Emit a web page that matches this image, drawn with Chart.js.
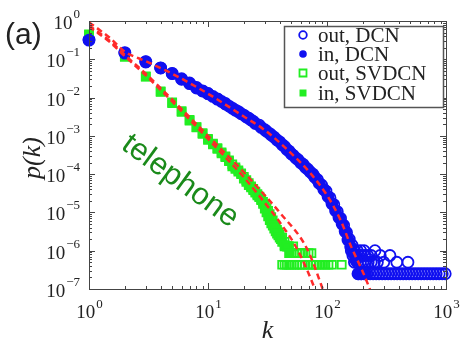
<!DOCTYPE html>
<html>
<head>
<meta charset="utf-8">
<script src="https://cdn.jsdelivr.net/npm/chart.js@4.4.1/dist/chart.umd.min.js"></script>
<style>
  html, body { margin: 0; padding: 0; background: #fff; }
  canvas { display: block; }
</style>
</head>
<body>
<canvas id="chart" width="460" height="345"></canvas>
<script>
// DCN, in-degree (filled circles)
const dcnInK = [1,2,3,4,5,6,7,8,9,10,11,12,13,14,15,17,19,21,23,25,28,31,34,38,42,46,50,55,60,66,72,79,86,94,102,110,118,126,134,142,150,158,166,175,185,195,210];
const dcnInP = [0.316,0.145,0.085,0.059,0.042,0.030,0.023,0.0178,0.0148,0.0126,0.0107,0.0091,0.0079,0.0068,0.0060,0.0047,0.0038,0.0031,0.0026,0.0021,1.66e-3,1.32e-3,1.05e-3,7.8e-4,5.9e-4,4.4e-4,3.4e-4,2.6e-4,2.0e-4,1.5e-4,1.15e-4,8.3e-5,5.8e-5,4.0e-5,2.6e-5,1.7e-5,1.1e-5,7.4e-6,5.0e-6,3.2e-6,1.9e-6,1.26e-6,8.7e-7,5.6e-7,2.5e-7,2.5e-7,2.5e-7];

// DCN, out-degree (open circles)
const dcnOutK = [1,2,3,4,5,6,7,8,9,10,12,14,16,18,20,22,24,27,30,33,36,40,44,48,52,57,63,69,76,83,90,98,106,114,122,130,138,146,154,162,170,
  160,170,180,192,205,165,175,185,195,207,220,235,170,180,190,200,210,222,235,250,265,253,280,300,338,386,479,
  182,193,205,217,230,244,259,274,291,308,327,346,367,389,412,437,463,491,520,551,584,619,656,695,737,781,828,877,930,985];
const dcnOutP = [0.33,0.15,0.087,0.060,0.043,0.031,0.024,0.0183,0.0150,0.0128,0.0093,0.0070,0.0053,0.0043,0.0035,0.0029,0.0024,0.0019,1.45e-3,1.15e-3,9.2e-4,7.0e-4,5.3e-4,4.0e-4,3.1e-4,2.4e-4,1.8e-4,1.35e-4,1.0e-4,7.2e-5,5.2e-5,3.6e-5,2.4e-5,1.6e-5,1.05e-5,7.0e-6,4.6e-6,3.0e-6,2.0e-6,1.4e-6,1.0e-6,
  1e-6,1e-6,1e-6,1e-6,1e-6,7.5e-7,7.5e-7,7.5e-7,7.5e-7,7.5e-7,7.5e-7,7.5e-7,5e-7,5e-7,5e-7,5e-7,5e-7,5e-7,5e-7,5e-7,5e-7,1.0e-6,7.5e-7,5e-7,7.5e-7,5e-7,5e-7,
  2.5e-7,2.5e-7,2.5e-7,2.5e-7,2.5e-7,2.5e-7,2.5e-7,2.5e-7,2.5e-7,2.5e-7,2.5e-7,2.5e-7,2.5e-7,2.5e-7,2.5e-7,2.5e-7,2.5e-7,2.5e-7,2.5e-7,2.5e-7,2.5e-7,2.5e-7,2.5e-7,2.5e-7,2.5e-7,2.5e-7,2.5e-7,2.5e-7,2.5e-7,2.5e-7];

// SVDCN, in-degree (filled squares)
const svdcnInK = [1,2,3,4,5,6,7,8,9,10,11,12,13,14,15,16,17,18,19,20,21,22,23,24,25,26,27,28,29,30,31,32,33,34,35,36,37,38,39,40,41,42,44,46,48];
const svdcnInP = [0.43,0.115,0.035,0.0141,0.0072,0.0042,0.0025,0.00166,0.00112,7.9e-4,6.0e-4,4.6e-4,3.5e-4,2.8e-4,2.2e-4,1.6e-4,1.38e-4,1.17e-4,1.0e-4,7.6e-5,6.3e-5,5.2e-5,4.5e-5,3.8e-5,3.3e-5,2.8e-5,2.5e-5,2.1e-5,1.66e-5,1.26e-5,1.0e-5,7.9e-6,6.3e-6,5.2e-6,4.5e-6,3.8e-6,3.2e-6,2.8e-6,2.5e-6,2.2e-6,2.0e-6,1.7e-6,1.4e-6,1.3e-6,8.6e-7];

// SVDCN, out-degree (open squares)
const svdcnOutK = [1,2,3,4,5,6,7,8,9,10,11,12,13,14,15,16,17,18,19,20,21,22,23,24,25,26,27,28,29,30,31,32,33,34,35,36,37,38,39,40,42,44,46,48,
  44,47,52,50,53,56,59,62,66,70,74,
  42,44,46,48,50,53,56,59,62,65,69,73,77,81,86,91,97,103,110,133];
const svdcnOutP = [0.45,0.12,0.036,0.0145,0.0075,0.0044,0.0026,0.0017,0.00118,8.3e-4,6.3e-4,4.8e-4,3.7e-4,2.9e-4,2.3e-4,1.8e-4,1.5e-4,1.25e-4,1.05e-4,8.5e-5,7.0e-5,5.8e-5,4.8e-5,4.1e-5,3.5e-5,3.0e-5,2.6e-5,2.2e-5,1.9e-5,1.6e-5,1.3e-5,1.1e-5,9.0e-6,7.5e-6,6.2e-6,5.0e-6,4.2e-6,3.5e-6,3.0e-6,2.6e-6,2.2e-6,1.7e-6,1.3e-6,1.3e-6,
  1.3e-6,1.3e-6,1.3e-6,8.6e-7,8.6e-7,8.6e-7,8.6e-7,8.6e-7,8.6e-7,8.6e-7,8.6e-7,
  4.3e-7,4.3e-7,4.3e-7,4.3e-7,4.3e-7,4.3e-7,4.3e-7,4.3e-7,4.3e-7,4.3e-7,4.3e-7,4.3e-7,4.3e-7,4.3e-7,4.3e-7,4.3e-7,4.3e-7,4.3e-7,4.3e-7,4.3e-7];

// red dashed fits
const dcnFitK = [1,1.5,2,3,5,10,20,30,50,70,100,130,160,200,240];
const dcnFitP = [0.93,0.36,0.158,0.089,0.042,0.0126,3.2e-3,1.41e-3,3.5e-4,1.2e-4,2.8e-5,6.3e-6,1.26e-6,2.8e-7,7e-8];
const svdcnFitAK = [1,1.5,2,3,5,10,15,20,30,40,56,79,90];
const svdcnFitAP = [0.71,0.28,0.12,0.038,0.0079,8.3e-4,2.2e-4,8.3e-5,1.78e-5,5.6e-6,1.12e-6,1e-7,3e-8];
const svdcnFitBK = [1,1.5,2,3,5,10,20,30,40,68,92,105];
const svdcnFitBP = [0.76,0.3,0.13,0.042,0.0089,1.0e-3,1.12e-4,2.8e-5,1.0e-5,1.12e-6,1e-7,3e-8];

// axis ticks (decade exponents)
const xTickExps = [0, 1, 2, 3];
const yTickExps = [0, -1, -2, -3, -4, -5, -6, -7];

const legendLabels = ['out, DCN', 'in, DCN', 'out, SVDCN', 'in, SVDCN'];

const BLUE = '#1010f0';
const GREEN = '#22ee22';
const RED = '#ff2a2a';
const SERIF = '"Liberation Serif", "Times New Roman", serif';
const SANS = '"Liberation Sans", Arial, sans-serif';

function pts(ks, ps) {
    return ks.map((k, i) => ({ x: k, y: ps[i] }));
}

function fitSet(ks, ps) {
    return {
        data: pts(ks, ps), showLine: true, pointRadius: 0, borderColor: RED,
        borderWidth: 2.5, borderDash: [6, 4], cubicInterpolationMode: 'monotone', order: 0
    };
}

// frame, ticks, labels, legend drawn from the scales
const frame = {
    id: 'frame',
    afterDatasetsDraw(chart) {
        const { ctx, chartArea: a, scales: { x, y } } = chart;
        ctx.save();
        ctx.strokeStyle = '#444';
        ctx.lineWidth = 1;
        ctx.strokeRect(Math.round(a.left) + 0.5, Math.round(a.top) + 0.5,
            Math.round(a.right - a.left), Math.round(a.bottom - a.top));

        ctx.beginPath();
        for (let e = xTickExps[0]; e < xTickExps[xTickExps.length - 1] + 1; e++) {
            for (let m = 1; m <= 9; m++) {
                const v = m * Math.pow(10, e);
                if (v > x.max) break;
                const px = Math.round(x.getPixelForValue(v)) + 0.5;
                const len = m === 1 ? 6 : 3;
                ctx.moveTo(px, a.bottom); ctx.lineTo(px, a.bottom - len);
                ctx.moveTo(px, a.top); ctx.lineTo(px, a.top + len);
            }
        }
        for (let e = yTickExps[yTickExps.length - 1]; e <= yTickExps[0]; e++) {
            for (let m = 1; m <= 9; m++) {
                const v = m * Math.pow(10, e);
                if (v > y.max) break;
                const py = Math.round(y.getPixelForValue(v)) + 0.5;
                const len = m === 1 ? 6 : 3;
                ctx.moveTo(a.left, py); ctx.lineTo(a.left + len, py);
                ctx.moveTo(a.right, py); ctx.lineTo(a.right - len, py);
            }
        }
        ctx.stroke();

        // tick labels 10^n
        ctx.fillStyle = '#222';
        ctx.textBaseline = 'alphabetic';
        ctx.textAlign = 'left';
        const base = '19px ' + SERIF, sup = '13px ' + SERIF;
        const expText = e => (e < 0 ? '\u2212' : '') + Math.abs(e);
        xTickExps.forEach(e => {
            const px = x.getPixelForValue(Math.pow(10, e));
            ctx.font = base; const w1 = ctx.measureText('10').width;
            ctx.font = sup; const w2 = ctx.measureText(expText(e)).width;
            const left = px - (w1 + w2) / 2;
            ctx.font = base; ctx.fillText('10', left, 318);
            ctx.font = sup; ctx.fillText(expText(e), left + w1 + 1, 308);
        });
        yTickExps.forEach(e => {
            const py = y.getPixelForValue(Math.pow(10, e));
            ctx.font = sup; const w2 = ctx.measureText(expText(e)).width;
            ctx.font = base; const w1 = ctx.measureText('10').width;
            const right = 80;
            ctx.font = base; ctx.fillText('10', right - w2 - w1 - 1, py + 8);
            ctx.font = sup; ctx.fillText(expText(e), right - w2, py - 3);
        });

        // axis titles
        ctx.font = 'italic 26px ' + SERIF;
        ctx.textAlign = 'center';
        ctx.fillText('k', (a.left + a.right) / 2, 338);
        ctx.save();
        ctx.translate(40, 158);
        ctx.rotate(-Math.PI / 2);
        ctx.fillText('p(k)', 0, 0);
        ctx.restore();

        // panel tag
        ctx.font = '30px ' + SANS;
        ctx.textAlign = 'left';
        ctx.fillText('(a)', 5, 44);

        // annotation
        ctx.save();
        ctx.fillStyle = '#1a8a1a';
        ctx.font = '31px ' + SANS;
        ctx.translate(175, 188);
        ctx.rotate(36 * Math.PI / 180);
        ctx.textAlign = 'center';
        ctx.fillText('telephone', 0, 0);
        ctx.restore();

        // legend
        const lx = 284, ly = 26, lw = 159, lh = 81;
        ctx.fillStyle = '#fff';
        ctx.fillRect(lx, ly, lw, lh);
        ctx.strokeStyle = '#555';
        ctx.lineWidth = 1.5;
        ctx.strokeRect(lx + 0.5, ly + 0.5, lw, lh);
        const rows = [35, 54, 73, 93];
        chart.data.datasets.filter(d => d.label).forEach((d, i) => {
            const cy = rows[i], cx = 303;
            ctx.beginPath();
            if (d.pointStyle === 'circle') {
                ctx.arc(cx, cy, 3.8, 0, Math.PI * 2);
            } else {
                ctx.rect(cx - 3.5, cy - 3.5, 7, 7);
            }
            if (d.filled) {
                ctx.fillStyle = d.pointBorderColor; ctx.fill();
            } else {
                ctx.strokeStyle = d.pointBorderColor; ctx.lineWidth = 1.8; ctx.stroke();
            }
            ctx.fillStyle = '#222';
            ctx.font = '21px ' + SERIF;
            ctx.fillText(d.label, 318, cy + 7);
        });
        ctx.restore();
    }
};

function markerSet(label, ks, ps, color, style, filled, order) {
    return {
        label: label, data: pts(ks, ps), showLine: false, pointStyle: style,
        pointRadius: style === 'circle' ? 5.5 : 5.6, pointBorderWidth: 1.8,
        pointBorderColor: color, pointBackgroundColor: filled ? color : 'rgba(255,255,255,0)',
        filled: filled, clip: false, order: order
    };
}

new Chart(document.getElementById('chart'), {
    type: 'scatter',
    data: {
        datasets: [
            markerSet(legendLabels[0], dcnOutK, dcnOutP, BLUE, 'circle', false, 3),
            markerSet(legendLabels[1], dcnInK, dcnInP, BLUE, 'circle', true, 2),
            markerSet(legendLabels[2], svdcnOutK, svdcnOutP, GREEN, 'rect', false, 3),
            markerSet(legendLabels[3], svdcnInK, svdcnInP, GREEN, 'rect', true, 2),
            fitSet(dcnFitK, dcnFitP),
            fitSet(svdcnFitAK, svdcnFitAP),
            fitSet(svdcnFitBK, svdcnFitBP)
        ]
    },
    options: {
        responsive: false,
        animation: false,
        layout: { padding: { left: 89, top: 21, right: 14, bottom: 56 } },
        plugins: { legend: { display: false }, tooltip: { enabled: false } },
        scales: {
            x: { type: 'logarithmic', min: 1, max: 1000, display: false },
            y: { type: 'logarithmic', min: 1e-7, max: 1, display: false }
        }
    },
    plugins: [frame]
});
</script>
</body>
</html>
